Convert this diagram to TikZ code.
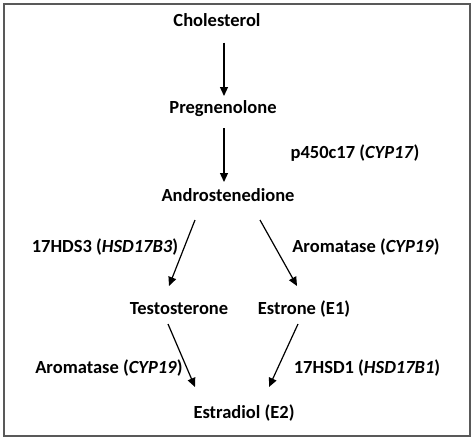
\documentclass[tikz,border=0pt]{standalone}
\usepackage{fontspec}
\setmainfont{Carlito}
\usetikzlibrary{arrows.meta,calc}
\begin{document}
\begin{tikzpicture}[x=1pt,y=-1pt,
  lbl/.style={anchor=base,inner sep=0pt,font=\fontsize{18.5}{21}\selectfont\bfseries},
  arr/.style={line width=1.2pt,-{Triangle[length=9pt,width=8pt]}}]
\useasboundingbox (0,0) rectangle (474,440);
\draw[line width=2.2pt,draw=black!65] (4,4) rectangle (470,436);
\node[lbl] (chol) at (217,26.5) {Cholesterol};
\node[lbl] (preg) at (223,113) {Pregnenolone};
\node[lbl] (cyp17) at (355,158) {p450c17 (\textit{CYP17})};
\node[lbl] (andro) at (228,201) {Androstenedione};
\node[lbl] (hsd3) at (105,252) {17HDS3 (\textit{HSD17B3})};
\node[lbl] (aro1) at (366,252) {Aromatase (\textit{CYP19})};
\node[lbl] (testo) at (179,314) {Testosterone};
\node[lbl] (estr) at (304,314) {Estrone (E1)};
\node[lbl] (aro2) at (109,373) {Aromatase (\textit{CYP19})};
\node[lbl] (hsd1) at (367,373) {17HSD1 (\textit{HSD17B1})};
\node[lbl] (e2) at (244,418) {Estradiol (E2)};
\draw[arr] ($(chol.base)+(7,16)$) -- ($(preg.base)+(1,-17)$);
\draw[arr] ($(preg.base)+(1,15)$) -- ($(andro.base)+(-4,-19)$);
\draw[arr] ($(andro.base)+(-33,19)$) -- ($(testo.base)+(-10,-28)$);
\draw[arr] ($(andro.base)+(32,19)$) -- ($(estr.base)+(-7,-28)$);
\draw[arr] ($(testo.base)+(-11,10)$) -- ($(e2.base)+(-49,-31)$);
\draw[arr] ($(estr.base)+(-6,10)$) -- ($(e2.base)+(25,-31)$);
\end{tikzpicture}
\end{document}
